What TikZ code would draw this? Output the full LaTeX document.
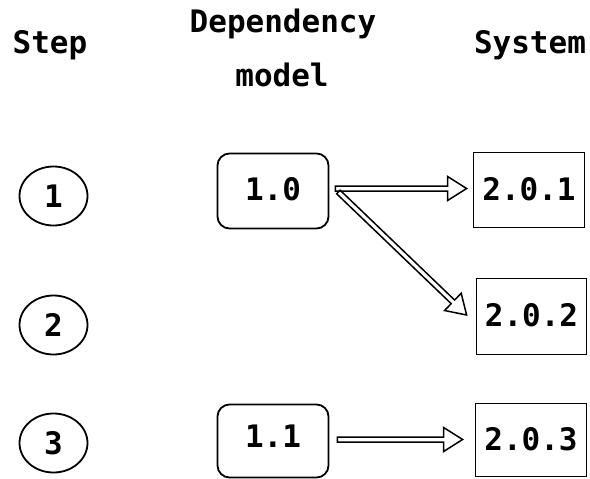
\documentclass[tikz,border=0pt]{standalone}
\usepackage{fontspec}
\newfontfamily\pix{DejaVu Sans Mono}
\usetikzlibrary{calc,shapes.geometric}
\newcommand\hollowarrow[2]{%
  \draw[arr] let \p1=($(#2)-(#1)$), \n1={veclen(\x1,\y1)}, \n2={atan2(\y1,\x1)} in
    ($(#1)+(\n2+90:2.5pt)$)
 -- ($(#1)+(\n2:\n1-19pt)+(\n2+90:2.5pt)$)
 -- ($(#1)+(\n2:\n1-19pt)+(\n2+90:12pt)$)
 -- (#2)
 -- ($(#1)+(\n2:\n1-19pt)+(\n2-90:12pt)$)
 -- ($(#1)+(\n2:\n1-19pt)+(\n2-90:2.5pt)$)
 -- ($(#1)+(\n2-90:2.5pt)$) -- cycle;}
\begin{document}
\begin{tikzpicture}[x=1pt,y=1pt,
  txt/.style={font=\pix\bfseries\fontsize{31}{36}\selectfont, inner sep=0pt},
  stepcirc/.style={txt, draw, ellipse, line width=1.8pt, minimum width=68pt, minimum height=59pt},
  modelbox/.style={txt, draw, rectangle, rounded corners=12pt, line width=1.8pt, minimum width=111pt, minimum height=75pt},
  sysbox/.style={txt, draw, rectangle, line width=1.8pt, minimum width=111pt, minimum height=75pt},
  arr/.style={line width=1.5pt, line join=miter}]
\useasboundingbox (0,0) rectangle (590,-479);
% headers
\node[txt, anchor=base] (hstep) at (50,-53) {Step};
\node[txt, anchor=base] (hdep) at (283,-32) {Dependency};
\node[txt, anchor=base] (hmod) at (282,-86) {model};
\node[txt, anchor=base] (hsys) at (530,-53) {System};
% steps
\node[stepcirc] (c1) at (53.5,-196) {1};
\node[stepcirc] (c2) at (53.5,-325) {2};
\node[stepcirc] (c3) at (53.5,-443) {3};
% model boxes
\node[modelbox, text depth=4pt] (b10) at (273,-191) {1.0};
\node[modelbox, minimum height=73pt, text depth=10pt] (b11) at (273,-441) {1.1};
% system boxes
\node[sysbox, text depth=2pt] (s1) at (529,-190) {2.0.1};
\node[sysbox, minimum width=110pt, minimum height=76pt, text depth=4pt] (s2) at (531.5,-316.5) {2.0.2};
\node[sysbox, minimum height=73pt, text depth=2pt] (s3) at (531,-440) {2.0.3};
% arrow end points
\coordinate (a1s) at ($(b10.east)+(6,2.5)$);
\coordinate (a1e) at ($(s1.west)+(-6,1.5)$);
\coordinate (a2s) at ($(b10.east)+(9,-1)$);
\coordinate (a2e) at ($(s2.west)+(-9,1.5)$);
\coordinate (a3s) at ($(b11.east)+(8,1.5)$);
\coordinate (a3e) at ($(s3.west)+(-12,0.5)$);
\hollowarrow{a2s}{a2e}
\hollowarrow{a1s}{a1e}
\hollowarrow{a3s}{a3e}
\end{tikzpicture}
\end{document}
